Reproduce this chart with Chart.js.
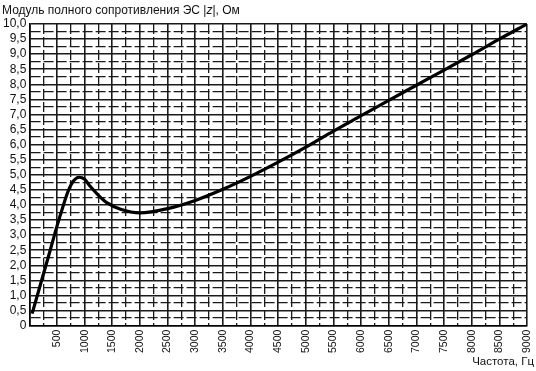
<!DOCTYPE html>
<html>
<head>
<meta charset="utf-8">
<script src="https://cdn.jsdelivr.net/npm/chart.js@4/dist/chart.umd.min.js"></script>
<style>
  html, body { margin: 0; padding: 0; background: #fff; }
  #wrap { position: relative; width: 536px; height: 371px; }
  #c { position: absolute; left: 0; top: 0; }
  .lbl { position: absolute; font-family: "Liberation Sans", Arial, sans-serif; color: #111; white-space: nowrap; }
  #title { left: 2px; top: 3px; font-size: 12px; }
  #xtitle { right: 2px; top: 355px; font-size: 11.5px; }
</style>
</head>
<body>
<div id="wrap">
  <canvas id="c" width="536" height="371"></canvas>
  <div id="title" class="lbl">Модуль полного сопротивления ЭС |<i>z</i>|, Ом</div>
  <div id="xtitle" class="lbl">Частота, Гц</div>
</div>
<script>
// Frequency, Hz
const freqHz = [50, 300, 500, 600, 700, 800, 900, 1000, 1100, 1250, 1400, 1650, 2000, 2500, 3000, 3500, 4000, 4500, 5000, 5500, 6000, 6500, 7000, 7500, 8000, 8500, 9000];
// Impedance module |z|, Ohm
const impedance = [0.4, 2.0, 3.3, 3.9, 4.45, 4.8, 4.92, 4.85, 4.62, 4.32, 4.08, 3.86, 3.74, 3.88, 4.15, 4.52, 4.95, 5.42, 5.92, 6.45, 6.96, 7.47, 7.97, 8.47, 8.98, 9.5, 10.0];
// Axis ranges and tick spacing (major labelled, minor dashed)
const xRange = [0, 9000];
const yRange = [0, 10];
const xStep = 250;
const yStep = 0.25;

const points = freqHz.map((f, i) => ({ x: f, y: impedance[i] }));
const FONT = '"Liberation Sans", Arial, sans-serif';

function isMajor(v, step) { return Math.round(v / step) % 2 === 0; }

new Chart(document.getElementById('c'), {
  type: 'line',
  data: {
    datasets: [{
      data: points,
      borderColor: '#000',
      borderWidth: 3.2,
      pointRadius: 0,
      cubicInterpolationMode: 'monotone',
      fill: false
    }]
  },
  options: {
    responsive: false,
    animation: false,
    devicePixelRatio: 1,
    layout: { padding: { left: 0, right: 9, top: 24, bottom: 14 } },
    plugins: { legend: { display: false }, tooltip: { enabled: false }, title: { display: false } },
    scales: {
      x: {
        type: 'linear',
        min: xRange[0], max: xRange[1],
        afterFit: (scale) => { scale.paddingLeft = 0; scale.paddingRight = 0; },
        grid: {
          drawTicks: false,
          color: '#1a1a1a',
          lineWidth: (ctx) => ctx.tick && !isMajor(ctx.tick.value, xStep) ? 1.3 : 1.6
        },
        border: {
          display: true, color: '#000', width: 1.6,
          dash: (ctx) => ctx.tick && !isMajor(ctx.tick.value, xStep) ? [10, 3] : []
        },
        ticks: {
          stepSize: xStep,
          autoSkip: false,
          maxTicksLimit: 100,
          minRotation: 90, maxRotation: 90,
          padding: 4,
          color: '#111',
          font: { family: FONT, size: 10.5 },
          callback: (v) => (v === 0 || !isMajor(v, xStep)) ? '' : String(Math.round(v))
        }
      },
      y: {
        type: 'linear',
        min: yRange[0], max: yRange[1],
        grid: {
          drawTicks: false,
          color: '#1a1a1a',
          lineWidth: (ctx) => ctx.tick && !isMajor(ctx.tick.value, yStep) ? 1.3 : 1.6
        },
        border: {
          display: true, color: '#000', width: 1.6,
          dash: (ctx) => ctx.tick && !isMajor(ctx.tick.value, yStep) ? [10, 3] : []
        },
        ticks: {
          stepSize: yStep,
          autoSkip: false,
          maxTicksLimit: 100,
          padding: 3,
          color: '#111',
          font: { family: FONT, size: 12 },
          callback: (v) => {
            if (!isMajor(v, yStep)) return '';
            if (Math.abs(v) < 1e-9) return '0';
            return v.toFixed(1).replace('.', ',');
          }
        }
      }
    }
  }
});
</script>
</body>
</html>
